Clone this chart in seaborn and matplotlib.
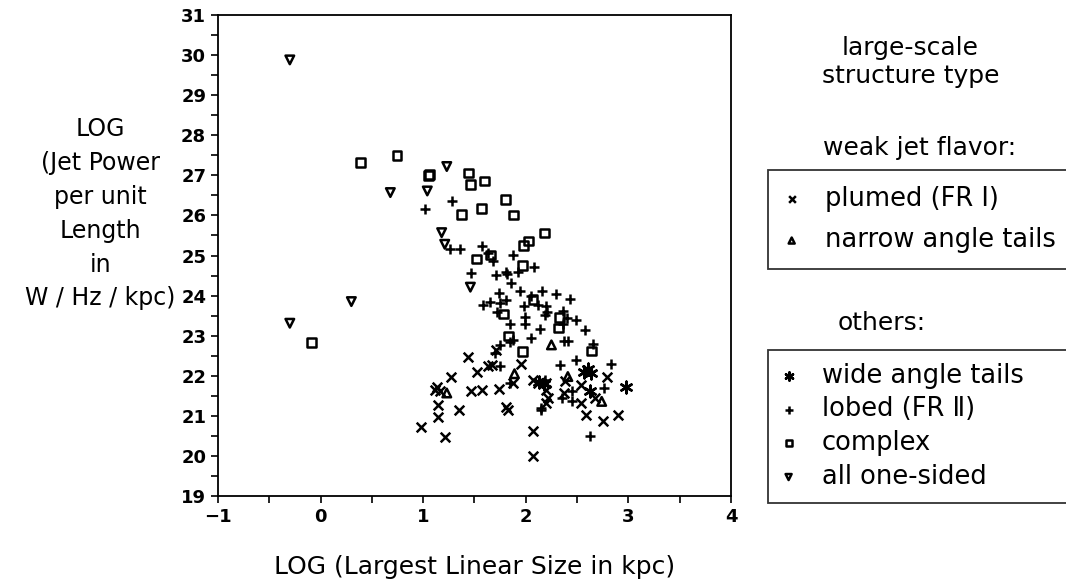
import numpy as np
import pandas as pd
import seaborn as sns
from matplotlib import pyplot as plt
from matplotlib.ticker import MultipleLocator

# values: log(size in kpc), log(jet power per unit length)
plumed_x = [1.44, 1.52, 1.63, 1.67, 1.95, 1.27, 1.88, 1.13, 1.12, 1.16, 1.47, 1.57, 1.74,
            2.07, 2.12, 2.20, 2.20, 2.38, 2.37, 2.22, 2.20, 1.14, 1.14, 1.35, 1.81, 1.83,
            0.98, 1.21, 2.07, 2.07, 2.79, 2.54, 2.67, 2.54, 2.59, 2.75, 2.90, 1.71]
plumed_y = [22.48, 22.09, 22.25, 22.27, 22.30, 21.98, 21.83, 21.73, 21.65, 21.61, 21.63, 21.65, 21.67,
            21.90, 21.82, 21.83, 21.65, 21.86, 21.57, 21.45, 21.32, 21.27, 20.98, 21.15, 21.23, 21.15,
            20.72, 20.47, 20.63, 20.00, 21.98, 21.77, 21.45, 21.32, 21.02, 20.86, 21.02, 22.65]

nat_x = [2.25, 1.89, 1.23, 2.41, 2.74]
nat_y = [22.77, 22.05, 21.57, 21.98, 21.36]

wat_x = [2.13, 2.18, 2.57, 2.61, 2.64, 2.63, 2.98]
wat_y = [21.85, 21.80, 22.10, 22.16, 22.06, 21.61, 21.71]

lobed_x = [1.02, 1.28, 1.26, 1.36, 1.57, 1.63, 1.68, 1.88, 2.08, 1.47, 1.71, 1.81, 1.82, 1.92,
           1.86, 1.74, 1.94, 2.16, 2.29, 2.43, 2.05, 1.58, 1.65, 1.75, 1.81, 1.98, 2.12, 2.20,
           1.72, 2.21, 2.19, 2.36, 2.40, 2.49, 2.58, 2.36, 1.99, 1.99, 1.85, 2.14, 2.05, 1.85,
           1.88, 1.75, 1.70, 2.37, 2.41, 2.66, 2.33, 2.49, 1.75, 1.85, 2.19, 2.45, 2.15, 2.35,
           2.45, 2.76, 2.83, 2.63, 2.15]
lobed_y = [26.16, 26.36, 25.16, 25.16, 25.24, 25.06, 24.87, 25.02, 24.71, 24.56, 24.52, 24.60, 24.55, 24.60,
           24.32, 24.06, 24.11, 24.11, 24.04, 23.91, 23.99, 23.77, 23.85, 23.81, 23.88, 23.73, 23.77, 23.73,
           23.60, 23.59, 23.51, 23.62, 23.44, 23.38, 23.14, 23.29, 23.46, 23.29, 23.29, 23.17, 22.94, 22.85,
           22.88, 22.77, 22.56, 22.87, 22.87, 22.80, 22.27, 22.39, 22.25, 21.82, 21.90, 21.61, 21.15, 21.45,
           21.36, 21.69, 22.30, 20.50, 21.20]

complex_x = [0.39, 0.745, 1.05, 1.06, 1.44, 1.46, 1.60, 1.37, 1.57, 1.80, 1.88, 2.18, 1.66,
             1.52, 2.03, 1.98, 1.97, 2.07, 1.78, 2.33, 2.32, 1.83, 1.97, 2.64, -0.09]
complex_y = [27.33, 27.49, 26.99, 27.02, 27.06, 26.77, 26.86, 26.02, 26.17, 26.39, 26.01, 25.56, 25.01,
             24.91, 25.36, 25.24, 24.75, 23.91, 23.54, 23.46, 23.19, 22.99, 22.60, 22.62, 22.83]

onesided_x = [-0.30, 1.23, 0.68, 1.04, 1.18, 1.21, 1.46, -0.30, 0.30]
onesided_y = [29.88, 27.22, 26.57, 26.61, 25.57, 25.28, 24.21, 23.31, 23.85]

labels = ['plumed (FR Ⅰ)', 'narrow angle tails', 'wide angle tails',
          'lobed (FR Ⅱ)', 'complex', 'all one-sided']
xticks = [-1, 0, 1, 2, 3, 4]
xtick_labels = ['−1', '0', '1', '2', '3', '4']

df = pd.concat([
    pd.DataFrame({'size': plumed_x, 'power': plumed_y, 'type': labels[0]}),
    pd.DataFrame({'size': nat_x, 'power': nat_y, 'type': labels[1]}),
    pd.DataFrame({'size': wat_x, 'power': wat_y, 'type': labels[2]}),
    pd.DataFrame({'size': lobed_x, 'power': lobed_y, 'type': labels[3]}),
    pd.DataFrame({'size': complex_x, 'power': complex_y, 'type': labels[4]}),
    pd.DataFrame({'size': onesided_x, 'power': onesided_y, 'type': labels[5]}),
])

sns.set_style('white')
plt.rcParams['font.family'] = ['DejaVu Sans']
plt.rcParams['text.color'] = 'black'
plt.rcParams['xtick.color'] = 'black'
plt.rcParams['ytick.color'] = 'black'
plt.rcParams['axes.labelcolor'] = 'black'

fig = plt.figure(figsize=(10.66, 5.84), dpi=100)
ax = fig.add_axes([0.2045, 0.1507, 0.4812, 0.8236])

markers = {labels[0]: ('x', 48, False), labels[1]: ('^', 38, True),
           labels[2]: ((6, 2, 0), 70, False), labels[3]: ('+', 62, False),
           labels[4]: ('s', 40, True), labels[5]: ('v', 38, True)}

for t in labels:
    m, s, openface = markers[t]
    sub = df[df['type'] == t]
    kw = dict(facecolor='none', edgecolor='black') if openface else {}
    sns.scatterplot(data=sub, x='size', y='power', marker=m, s=s, color='black',
                    linewidth=1.8, ax=ax, label=t, **kw)

ax.set_xlim(-1, 4)
ax.set_ylim(19, 31)
ax.set_xticks(xticks, xtick_labels, fontsize=13, fontweight='bold')
ax.xaxis.set_minor_locator(MultipleLocator(0.5))
ax.yaxis.set_major_locator(MultipleLocator(1))
ax.yaxis.set_minor_locator(MultipleLocator(0.5))
ax.tick_params(which='both', direction='out', length=5, width=1.2,
               bottom=True, left=True)
ax.tick_params(labelsize=13)
for lab in ax.get_yticklabels():
    lab.set_fontweight('bold')
for sp in ax.spines.values():
    sp.set_visible(True)
    sp.set_color('black')
    sp.set_linewidth(1.3)

ax.set_xlabel('LOG (Largest Linear Size in kpc)', fontsize=18, labelpad=21)
ax.set_ylabel('')
fig.text(0.094, 0.634, 'LOG\n(Jet Power\nper unit\nLength\nin\nW / Hz / kpc)',
         ha='center', va='center', ma='center', fontsize=17, linespacing=1.52)

fig.text(0.854, 0.894, 'large-scale\nstructure type', ha='center', va='center',
         fontsize=18, linespacing=1.2)
fig.text(0.863, 0.747, 'weak jet flavor:', ha='center', va='center', fontsize=18)
fig.text(0.827, 0.447, 'others:', ha='center', va='center', fontsize=18)

handles, labs = ax.get_legend_handles_labels()
ax.get_legend().remove()

# both boxes run past the right edge of the figure, as in the original
leg_kw = dict(loc='upper left', mode='expand', fontsize=18.5, markerscale=0.7,
              handlelength=0.6, handletextpad=1.0, borderaxespad=0, fancybox=False,
              frameon=True, edgecolor='black')
leg1 = fig.legend(handles[:2], labs[:2], bbox_to_anchor=(0.7205, 0.609, 0.32, 0.1),
                  labelspacing=0.6, borderpad=0.62, **leg_kw)
leg2 = fig.legend(handles[2:], labs[2:], bbox_to_anchor=(0.7205, 0.301, 0.32, 0.1),
                  labelspacing=0.3, borderpad=0.5, **leg_kw)
for lg in (leg1, leg2):
    lg.get_frame().set_linewidth(1.3)

fig.savefig('out.png', dpi=100)
